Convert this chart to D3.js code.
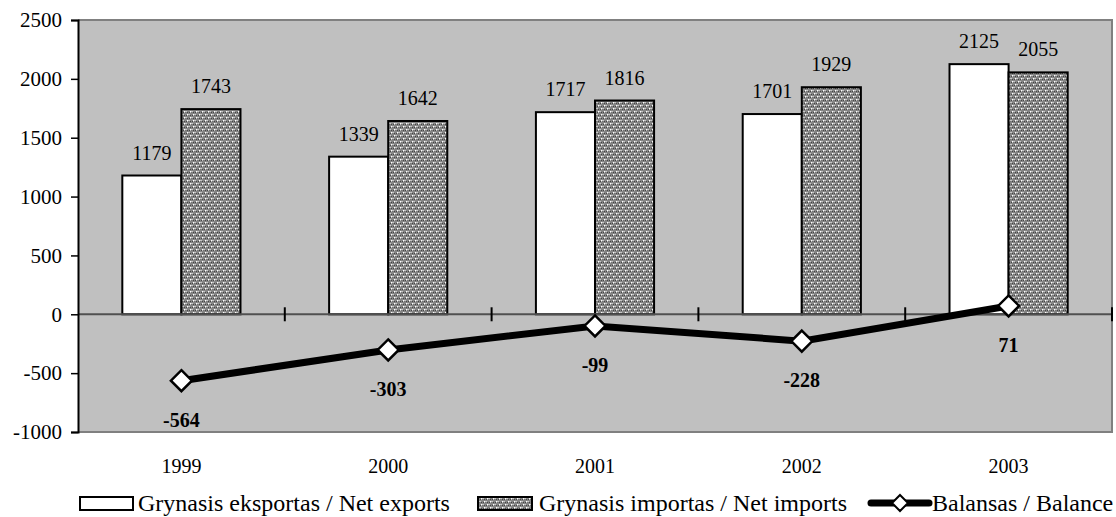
<!DOCTYPE html>
<html>
<head>
<meta charset="utf-8">
<script src="https://cdn.jsdelivr.net/npm/d3@7"></script>
<style>
  html, body { margin: 0; padding: 0; background: #fff; }
  svg { display: block; }
</style>
</head>
<body>
<svg id="chart" width="1116" height="517"></svg>
<script>
const years = ["1999", "2000", "2001", "2002", "2003"];
const netExports = [1179, 1339, 1717, 1701, 2125];
const netImports = [1743, 1642, 1816, 1929, 2055];
const balance = [-564, -303, -99, -228, 71];
const yTicks = [2500, 2000, 1500, 1000, 500, 0, -500, -1000];
const seriesNames = ["Grynasis eksportas / Net exports", "Grynasis importas / Net imports", "Balansas / Balance"];

const FONT = "Liberation Serif";
const svg = d3.select("#chart");
const L = 78, R = 1112, T = 20, B = 432;

const defs = svg.append("defs");
const pat = defs.append("pattern").attr("id", "dots").attr("patternUnits", "userSpaceOnUse")
  .attr("width", 6).attr("height", 6);
pat.append("rect").attr("width", 6).attr("height", 6).attr("fill", "#858585");
[[0,1],[2,1],[4,1],[1,4],[3,4],[5,4]].forEach(([a,b]) => pat.append("rect").attr("x", a).attr("y", b).attr("width", 1).attr("height", 1).attr("fill", "#444"));
[[1,0],[4,3]].forEach(([a,b]) => pat.append("rect").attr("x", a).attr("y", b).attr("width", 1.5).attr("height", 1.5).attr("fill", "#fff"));
[[0,3],[3,0]].forEach(([a,b]) => pat.append("rect").attr("x", a).attr("y", b).attr("width", 1).attr("height", 1).attr("fill", "#c8c8c8"));

const x = d3.scaleBand().domain(years).range([L, R]).padding(0);
const xSub = d3.scaleBand().domain(["exp", "imp"]).range([0, x.bandwidth()]).paddingInner(0).paddingOuter(0.75);
const y = d3.scaleLinear().domain([-1000, 2500]).range([B, T]);

svg.append("rect").attr("x", L).attr("y", T).attr("width", R - L).attr("height", B - T).attr("fill", "#c0c0c0");
svg.append("path").attr("d", `M${L},${T}H${R}V${B}H${L}`).attr("fill", "none").attr("stroke", "#808080").attr("stroke-width", 2);

const g = svg.append("g");
years.forEach((yr, i) => {
  const x0 = x(yr);
  [["exp", netExports[i], "#fff"], ["imp", netImports[i], "url(#dots)"]].forEach(([k, v, f]) => {
    g.append("rect")
      .attr("x", x0 + xSub(k)).attr("y", y(v))
      .attr("width", xSub.bandwidth()).attr("height", y(0) - y(v))
      .attr("fill", f).attr("stroke", "#000").attr("stroke-width", 2);
    g.append("text")
      .attr("x", x0 + xSub(k) + xSub.bandwidth() / 2).attr("y", y(v) - 16)
      .attr("text-anchor", "middle").attr("font-size", 20).attr("font-family", FONT).attr("fill", "#000").text(v);
  });
});

svg.append("line").attr("x1", L).attr("x2", R).attr("y1", y(0)).attr("y2", y(0)).attr("stroke", "#505050").attr("stroke-width", 2);
const bounds = years.map(d => x(d)).concat([R]);
bounds.slice(1).forEach(bx => {
  svg.append("line").attr("x1", bx).attr("x2", bx).attr("y1", y(0) - 7).attr("y2", y(0) + 7).attr("stroke", "#000").attr("stroke-width", 2);
});

const yAxis = d3.axisLeft(y).tickValues(yTicks).tickSize(7).tickPadding(9).tickFormat(d => String(d));
const ya = svg.append("g").attr("transform", `translate(${L},0)`).call(yAxis);
ya.attr("font-family", FONT).attr("font-size", 21);
ya.select(".domain").attr("stroke", "#000").attr("stroke-width", 2);
ya.selectAll(".tick line").attr("stroke", "#000").attr("stroke-width", 1.5);
ya.selectAll(".tick text").attr("fill", "#000").attr("font-family", FONT).attr("font-size", 21);

svg.append("g").selectAll("text").data(years).join("text")
  .attr("x", d => x(d) + x.bandwidth() / 2).attr("y", 473)
  .attr("text-anchor", "middle").attr("font-size", 20).attr("font-family", FONT).attr("fill", "#000").text(d => d);

const cx = (d, i) => x(years[i]) + x.bandwidth() / 2;
const line = d3.line().x((d, i) => cx(d, i)).y(d => y(d));
svg.append("path").datum(balance).attr("d", line).attr("fill", "none").attr("stroke", "#000").attr("stroke-width", 7);
const diamond = s => `M0,${-s}L${s},0L0,${s}L${-s},0Z`;
svg.append("g").selectAll("path").data(balance).join("path")
  .attr("transform", (d, i) => `translate(${cx(d, i)},${y(d)})`)
  .attr("d", diamond(10.5)).attr("fill", "#fff").attr("stroke", "#000").attr("stroke-width", 2.5);
svg.append("g").selectAll("text").data(balance).join("text")
  .attr("x", (d, i) => cx(d, i)).attr("y", d => y(d) + 46)
  .attr("text-anchor", "middle").attr("font-size", 20).attr("font-weight", "bold").attr("font-family", FONT).attr("fill", "#000").text(d => d);

const lg = svg.append("g");
const ly = 503;
lg.append("rect").attr("x", 80).attr("y", ly - 6).attr("width", 53).attr("height", 13).attr("fill", "#fff").attr("stroke", "#000").attr("stroke-width", 2);
lg.append("text").attr("x", 138).attr("y", ly + 8).text(seriesNames[0]);
lg.append("rect").attr("x", 478).attr("y", ly - 6).attr("width", 54).attr("height", 13).attr("fill", "url(#dots)").attr("stroke", "#000").attr("stroke-width", 2);
lg.append("text").attr("x", 539).attr("y", ly + 8).text(seriesNames[1]);
lg.append("line").attr("x1", 871).attr("x2", 929).attr("y1", ly).attr("y2", ly).attr("stroke", "#000").attr("stroke-width", 7).attr("stroke-linecap", "round");
lg.append("path").attr("transform", `translate(900,${ly})`).attr("d", diamond(8)).attr("fill", "#fff").attr("stroke", "#000").attr("stroke-width", 2);
lg.append("text").attr("x", 932).attr("y", ly + 8).text(seriesNames[2]);
lg.selectAll("text").attr("font-family", FONT).attr("font-size", 24).attr("fill", "#000");
</script>
</body>
</html>
